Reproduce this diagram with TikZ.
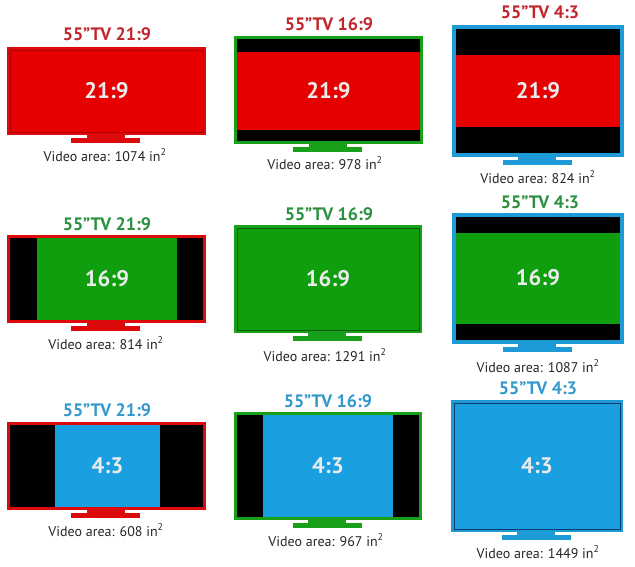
\documentclass[tikz,border=0pt]{standalone}
\usepackage{fontspec}
\setmainfont{PT Sans}
\definecolor{fred}{HTML}{DC0A0A}
\definecolor{sred}{HTML}{E60000}
\definecolor{dred}{HTML}{B00000}
\definecolor{tred}{HTML}{C0272D}
\definecolor{fgreen}{HTML}{18A018}
\definecolor{sgreen}{HTML}{0E9E0E}
\definecolor{dgreen}{HTML}{0A5A0A}
\definecolor{tgreen}{HTML}{2A9140}
\definecolor{fblue}{HTML}{1E9BD7}
\definecolor{sblue}{HTML}{1A9FE0}
\definecolor{dblue}{HTML}{0A3C70}
\definecolor{tblue}{HTML}{3399CC}
\tikzset{
  title/.style={font=\bfseries\fontsize{18}{19}\selectfont, inner sep=0pt, anchor=center},
  caption/.style={font=\fontsize{14}{15}\selectfont, text=black!85, inner sep=0pt, anchor=center},
  ratio/.style={font=\bfseries\fontsize{22.5}{23}\selectfont, text=white!92!black, inner sep=0pt},
}
\newcommand\tvbody[5]{% x1 x2 y1 y2 colour
  \fill[#5] (#1,#3) rectangle (#2,#4);
  \pgfmathsetmacro\cxx{(#1+#2)/2-1}
  \fill[#5] (\cxx-19,#4-1) rectangle (\cxx+19,#4+3.5);
  \fill[#5] (\cxx-34.5,#4+3) rectangle (\cxx+34.5,#4+8);
}
\begin{document}
\begin{tikzpicture}[x=1pt,y=-1pt]
\useasboundingbox[fill=white] (0,0) rectangle (635,567);
% ---------- Row 1 ----------
\tvbody{7}{206}{47}{135}{fred}
\fill[sred] (10,50) rectangle (203,132);
\draw[dred,line width=0.8pt] (10,50) rectangle (203,132);
\node[ratio] (r1c1) at (106.5,91) {21:9};
\node[title,text=tred] (t11) at (107,34) {55”TV 21:9};
\node[caption] (c11) at (105,155) {Video area: 1074 in\textsuperscript{2}};

\tvbody{234}{423}{36}{144}{fgreen}
\fill[black] (237,39) rectangle (420,141);
\fill[sred] (237,52) rectangle (420,130);
\node[ratio] (r1c2) at (328.5,91) {21:9};
\node[title,text=tred] (t12) at (329,24) {55”TV 16:9};
\node[caption] (c12) at (325,163) {Video area: 978 in\textsuperscript{2}};

\tvbody{452}{624}{25}{157}{fblue}
\fill[black] (456,29) rectangle (620,153);
\fill[sred] (456,55) rectangle (620,127);
\node[ratio] (r1c3) at (538,91) {21:9};
\node[title,text=tred] (t13) at (540,12) {55”TV 4:3};
\node[caption] (c13) at (538,177) {Video area: 824 in\textsuperscript{2}};
% ---------- Row 2 ----------
\tvbody{7}{206}{235}{323}{fred}
\fill[black] (10,238) rectangle (203,320);
\fill[sgreen] (37,238) rectangle (177,320);
\node[ratio] (r2c1) at (107,279) {16:9};
\node[title,text=tgreen] (t21) at (107,224) {55”TV 21:9};
\node[caption] (c21) at (106,343) {Video area: 814 in\textsuperscript{2}};

\tvbody{234}{422}{225}{333}{fgreen}
\fill[sgreen] (237,228) rectangle (419,330);
\draw[dgreen,line width=0.8pt] (237,228) rectangle (419,330);
\node[ratio] (r2c2) at (328,279) {16:9};
\node[title,text=tgreen] (t22) at (329,214) {55”TV 16:9};
\node[caption] (c22) at (325,355) {Video area: 1291 in\textsuperscript{2}};

\tvbody{452}{624}{213}{344}{fblue}
\fill[black] (456,217) rectangle (620,340);
\fill[sgreen] (456,233) rectangle (620,324);
\node[ratio] (r2c3) at (538,278) {16:9};
\node[title,text=tgreen] (t23) at (540,202) {55”TV 4:3};
\node[caption] (c23) at (538,366) {Video area: 1087 in\textsuperscript{2}};
% ---------- Row 3 ----------
\tvbody{7}{206}{422}{510}{fred}
\fill[black] (10,425) rectangle (203,507);
\fill[sblue] (55,425) rectangle (160,507);
\node[ratio] (r3c1) at (107.5,466) {4:3};
\node[title,text=tblue] (t31) at (107,410) {55”TV 21:9};
\node[caption] (c31) at (106,530) {Video area: 608 in\textsuperscript{2}};

\tvbody{234}{422}{412}{520}{fgreen}
\fill[black] (237,415) rectangle (419,517);
\fill[sblue] (263,415) rectangle (393,517);
\node[ratio] (r3c2) at (328,466) {4:3};
\node[title,text=tblue] (t32) at (328,401) {55”TV 16:9};
\node[caption] (c32) at (326,540) {Video area: 967 in\textsuperscript{2}};

\tvbody{451}{623}{400}{532}{fblue}
\fill[sblue] (454,403) rectangle (620,529);
\draw[dblue,line width=0.8pt] (454,403) rectangle (620,529);
\node[ratio] (r3c3) at (537,466) {4:3};
\node[title,text=tblue] (t33) at (538,388) {55”TV 4:3};
\node[caption] (c33) at (538,552) {Video area: 1449 in\textsuperscript{2}};
\end{tikzpicture}
\end{document}
